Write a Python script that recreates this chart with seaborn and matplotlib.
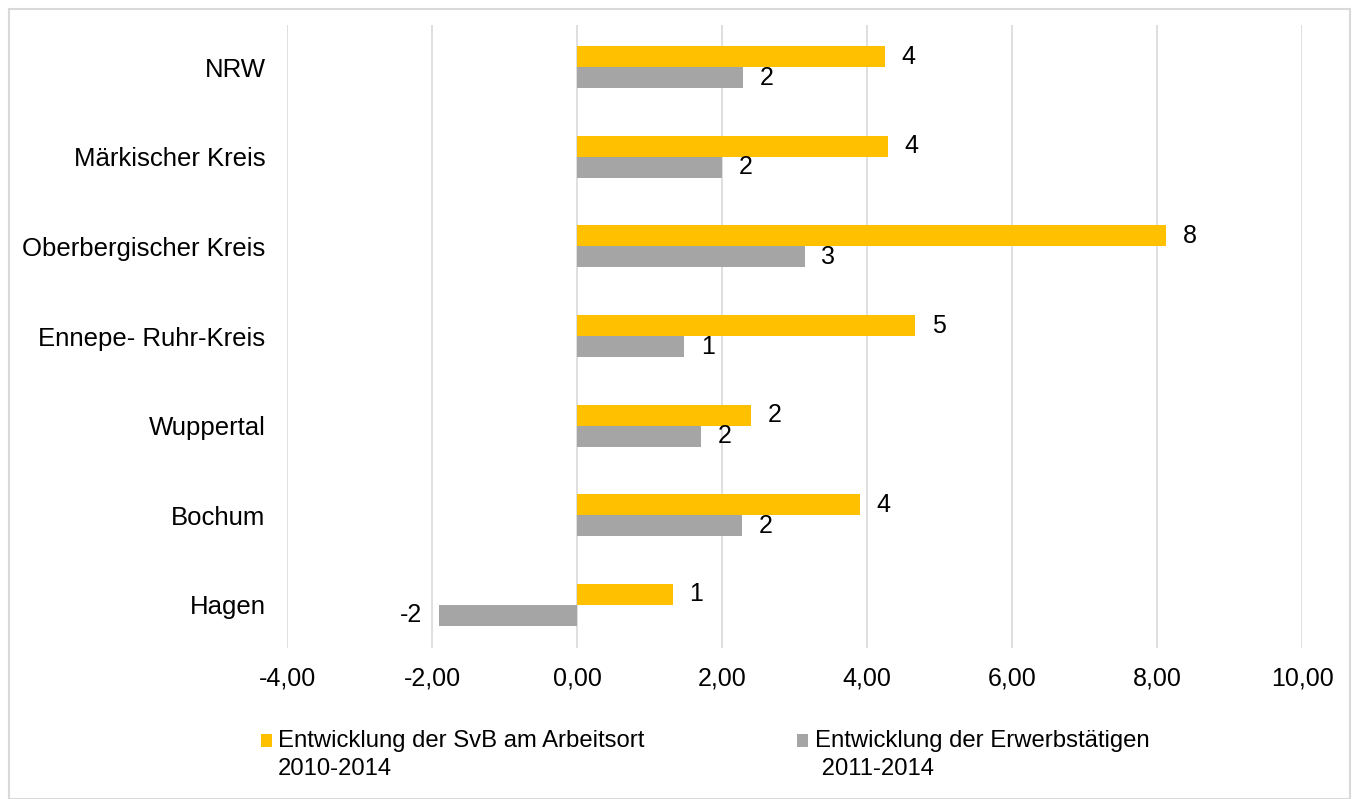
import matplotlib
matplotlib.use("Agg")
import matplotlib.pyplot as plt
import seaborn as sns
import pandas as pd
from matplotlib.patches import Rectangle

categories = ["NRW", "Märkischer Kreis", "Oberbergischer Kreis", "Ennepe- Ruhr-Kreis",
              "Wuppertal", "Bochum", "Hagen"]
svb_values = [4.25, 4.29, 8.12, 4.66, 2.40, 3.90, 1.32]
erw_values = [2.29, 2.00, 3.14, 1.48, 1.71, 2.28, -1.90]
series_names = ["Entwicklung der SvB am Arbeitsort\n2010-2014",
                "Entwicklung der Erwerbstätigen\n 2011-2014"]
x_ticks = [-4, -2, 0, 2, 4, 6, 8, 10]
colors = ["#FFC000", "#A5A5A5"]

df = pd.DataFrame({
    "cat": categories * 2,
    "val": svb_values + erw_values,
    "series": [series_names[0]] * len(categories) + [series_names[1]] * len(categories),
})

sns.set_theme(style="white")
plt.rcParams["font.family"] = ["Liberation Sans", "DejaVu Sans"]

fig = plt.figure(figsize=(13.57, 7.99), dpi=100)
ax = fig.add_axes([0.2115, 0.189, 0.748, 0.7797])

sns.barplot(data=df, y="cat", x="val", hue="series", orient="h",
            palette=colors, width=0.47, ax=ax, legend=False, saturation=1,
            edgecolor="none")

for cont in ax.containers:
    vals = cont.datavalues
    ax.bar_label(cont, labels=[f"{v:.0f}" for v in vals], padding=12,
                 fontsize=18, color="black")

ax.set_xlim(-4, 10)
ax.set_ylim(6.48, -0.47)
ax.set_xticks(x_ticks)
ax.set_xticklabels([f"{t:.2f}".replace(".", ",") for t in x_ticks], fontsize=18)
ax.tick_params(axis="x", length=0, pad=13)
ax.tick_params(axis="y", length=0, pad=15.5, labelsize=18.5)
ax.set_xlabel("")
ax.set_ylabel("")
ax.xaxis.grid(True, color="#D9D9D9", linewidth=1.2)
ax.set_axisbelow(True)
for s in ax.spines.values():
    s.set_visible(False)
for lbl in ax.get_yticklabels():
    lbl.set_color("black")
for lbl in ax.get_xticklabels():
    lbl.set_color("black")

# legend drawn manually
leg_items = [(0.1921, 0.2049, series_names[0], colors[0]),
             (0.5871, 0.6006, series_names[1], colors[1])]
for sx, tx, txt, c in leg_items:
    fig.patches.append(Rectangle((sx, 0.065), 0.0085, 0.0163, transform=fig.transFigure,
                                 facecolor=c, edgecolor="none"))
    lines = txt.split("\n")
    fig.text(tx, 0.065, lines[0], fontsize=17.2, va="baseline", ha="left", color="black")
    fig.text(tx, 0.030, lines[1], fontsize=17.2, va="baseline", ha="left", color="black")

fig.patches.append(Rectangle((0.0066, 0.0), 0.988, 0.989, transform=fig.transFigure,
                             facecolor="none", edgecolor="#D9D9D9", linewidth=1.5))

fig.savefig("out.png", dpi=100, facecolor="white")
